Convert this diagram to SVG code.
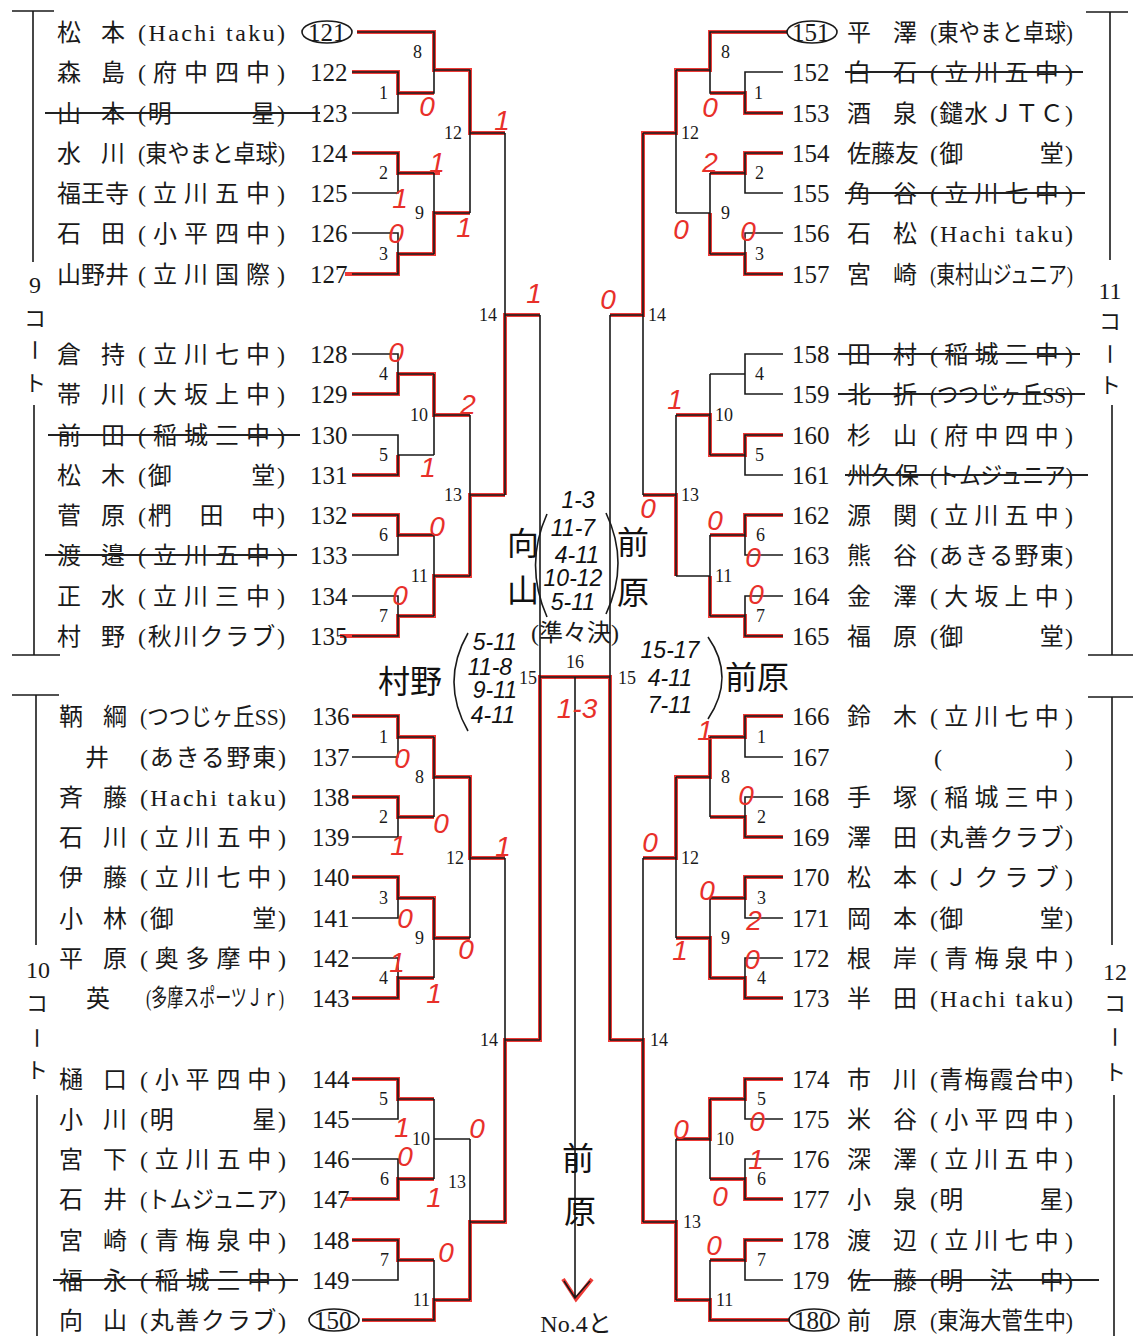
<svg xmlns="http://www.w3.org/2000/svg" width="1133" height="1336" viewBox="0 0 1133 1336">
<style>
.nm{font-family:"Noto Sans CJK JP",sans-serif;font-size:24px;fill:#1a1a1a}
.cl{font-family:"Liberation Serif","Noto Sans CJK JP",serif;font-size:24px;fill:#1a1a1a}
.no{font-family:"Liberation Serif",serif;font-size:25px;fill:#1a1a1a}
.mt{font-family:"Liberation Serif",serif;font-size:18px;fill:#1a1a1a}
.ml{text-anchor:end}
.ln{stroke:#1a1a1a;stroke-width:1.6;fill:none}
.rd{stroke:#ee3a36;stroke-width:4;fill:none;stroke-linejoin:miter}
.st{stroke:#222;stroke-width:2}
.ov{stroke:#1a1a1a;stroke-width:1.6;fill:none}
.sc{font-family:"Liberation Sans",sans-serif;font-style:italic;font-size:28px;fill:#e8302a;text-anchor:middle}
.hw{font-family:"Liberation Sans",sans-serif;font-style:italic;font-size:23px;fill:#111;text-anchor:middle}
.hk{font-family:"Noto Sans CJK JP",sans-serif;font-size:32px;fill:#111;text-anchor:middle}
.ct{font-family:"Noto Sans CJK JP",sans-serif;font-size:22px;fill:#1a1a1a;text-anchor:middle}
.cn{font-family:"Liberation Serif",serif;font-size:24px;fill:#1a1a1a;text-anchor:middle}
.cr{stroke:#1a1a1a;stroke-width:1.6;fill:none}
</style>

<g id="connectors">
<g id="red">
<path class="rd" d="M352,72 H398 V93 H434"/>
<path class="rd" d="M357,32 H434 V70 H470 V133 H505"/>
<path class="rd" d="M352,153 H398 V173 H440"/>
<path class="rd" d="M345,274 H398 V254 H434 V213 H470"/>
<path class="rd" d="M505,495 V315 H540"/>
<path class="rd" d="M352,394 H398 V374 H434 V415 H470"/>
<path class="rd" d="M352,475 H398 V455"/>
<path class="rd" d="M352,515 H398 V535 H434"/>
<path class="rd" d="M340,636 H398 V616 H434 V576 H470 V495 H505"/>
<path class="rd" d="M352,716 H398 V737 H434 V777 H470 V858 H505"/>
<path class="rd" d="M352,797 H398 V817 H434"/>
<path class="rd" d="M352,877 H398 V898 H434 V938 H470"/>
<path class="rd" d="M352,998 H398 V978 H434"/>
<path class="rd" d="M352,1079 H398 V1099 H434"/>
<path class="rd" d="M345,1199 H398 V1179 H434"/>
<path class="rd" d="M352,1240 H398 V1260 H434"/>
<path class="rd" d="M362,1320 H434 V1300 H470 V1222 H505 V1040 H540 V677 H575"/>
<path class="rd" d="M787,32 H710 V70 H676 V133 H643 V315 H610"/>
<path class="rd" d="M783,113 H745 V93 H710"/>
<path class="rd" d="M783,153 H745 V173 H710"/>
<path class="rd" d="M783,274 H745 V254 H710 V213"/>
<path class="rd" d="M783,435 H745 V455 H710 V415 H676"/>
<path class="rd" d="M783,515 H745 V535 H710"/>
<path class="rd" d="M783,636 H745 V616 H710 V576"/>
<path class="rd" d="M676,576 V495 H643"/>
<path class="rd" d="M783,716 H745 V737 H710 V777 H676 V858 H643"/>
<path class="rd" d="M783,837 H745 V817 H710"/>
<path class="rd" d="M783,877 H745 V898 H710"/>
<path class="rd" d="M783,998 H745 V978 H710 V938 H676"/>
<path class="rd" d="M783,1079 H745 V1099 H710 V1139 H676"/>
<path class="rd" d="M783,1199 H745 V1179 H710"/>
<path class="rd" d="M783,1240 H745 V1260 H710"/>
<path class="rd" d="M790,1320 H710 V1300 H676 V1222 H643 V1040 H610 V677 H575"/>
<path class="rd" d="M563,1279 L576,1299 L592,1279"/>
</g>
<g id="black">
<path class="ln" d="M357,32 H434 V93 H398 M352,72 H398 V113 H352 M434,70 H470 M352,153 H398 V193 H352 M398,173 H434 M352,233 H398 V274 H352 M398,254 H434 M434,173 V254 M434,213 H470 M470,70 V213 M470,133 H505 M505,133 V495 M505,315 H540"/>
<path class="ln" d="M352,354 H398 V394 H352 M398,374 H434 M352,435 H398 V475 H352 M398,455 H434 M434,374 V455 M434,415 H470 M352,515 H398 V555 H352 M398,535 H434 M352,596 H398 V636 H352 M398,616 H434 M434,535 V616 M434,576 H470 M470,415 V576 M470,495 H505"/>
<path class="ln" d="M352,716 H398 V757 H352 M398,737 H434 M352,797 H398 V837 H352 M398,817 H434 M434,737 V817 M434,777 H470 M352,877 H398 V918 H352 M398,898 H434 M352,958 H398 V998 H352 M398,978 H434 M434,898 V978 M434,938 H470 M470,777 V938 M470,858 H505 M505,858 V1222 M505,1040 H540"/>
<path class="ln" d="M352,1079 H398 V1119 H352 M398,1099 H434 M352,1159 H398 V1199 H352 M398,1179 H434 M434,1099 V1179 M434,1139 H470 M352,1240 H398 V1280 H352 M398,1260 H434 M362,1320 H434 V1260 M434,1300 H470 M470,1139 V1300 M470,1222 H505"/>
<path class="ln" d="M540,315 V1040 M610,315 V1040 M540,677 H610 M575,677 V1298 M564,1281 L575,1298 L590,1281"/>
<path class="ln" d="M787,32 H710 V93 H745 M783,72 H745 V113 H783 M710,70 H676 M783,153 H745 V193 H783 M745,173 H710 M783,233 H745 V274 H783 M745,254 H710 M710,173 V254 M710,213 H676 M676,70 V213 M676,133 H643 M643,133 V495 M643,315 H610"/>
<path class="ln" d="M783,354 H745 V394 H783 M745,374 H710 M783,435 H745 V475 H783 M745,455 H710 M710,374 V455 M710,415 H676 M783,515 H745 V555 H783 M745,535 H710 M783,596 H745 V636 H783 M745,616 H710 M710,535 V616 M710,576 H676 M676,415 V576 M676,495 H643"/>
<path class="ln" d="M783,716 H745 V757 H783 M745,737 H710 M783,797 H745 V837 H783 M745,817 H710 M710,737 V817 M710,777 H676 M783,877 H745 V918 H783 M745,898 H710 M783,958 H745 V998 H783 M745,978 H710 M710,898 V978 M710,938 H676 M676,777 V938 M676,858 H643 M643,858 V1222 M643,1040 H610"/>
<path class="ln" d="M783,1079 H745 V1119 H783 M745,1099 H710 M783,1159 H745 V1199 H783 M745,1179 H710 M710,1099 V1179 M710,1139 H676 M783,1240 H745 V1280 H783 M745,1260 H710 M790,1320 H710 V1260 M710,1300 H676 M676,1139 V1300 M676,1222 H643"/>
</g>
</g>

<g id="match-labels">
<text class="mt ml" x="388" y="99">1</text><text class="mt ml" x="422" y="58">8</text><text class="mt ml" x="388" y="179">2</text><text class="mt ml" x="388" y="260">3</text><text class="mt ml" x="424" y="219">9</text><text class="mt ml" x="462" y="139">12</text><text class="mt ml" x="497" y="321">14</text>
<text class="mt ml" x="388" y="380">4</text><text class="mt ml" x="388" y="461">5</text><text class="mt ml" x="428" y="421">10</text><text class="mt ml" x="388" y="541">6</text><text class="mt ml" x="388" y="622">7</text><text class="mt ml" x="428" y="582">11</text><text class="mt ml" x="462" y="501">13</text>
<text class="mt ml" x="388" y="743">1</text><text class="mt ml" x="388" y="823">2</text><text class="mt ml" x="424" y="783">8</text><text class="mt ml" x="388" y="904">3</text><text class="mt ml" x="388" y="984">4</text><text class="mt ml" x="424" y="944">9</text><text class="mt ml" x="464" y="864">12</text><text class="mt ml" x="498" y="1046">14</text>
<text class="mt ml" x="388" y="1105">5</text><text class="mt ml" x="389" y="1185">6</text><text class="mt ml" x="430" y="1145">10</text><text class="mt ml" x="389" y="1266">7</text><text class="mt ml" x="430" y="1306">11</text><text class="mt ml" x="466" y="1188">13</text>
<text class="mt" x="721" y="58">8</text><text class="mt" x="754" y="99">1</text><text class="mt" x="681" y="139">12</text><text class="mt" x="755" y="179">2</text><text class="mt" x="721" y="219">9</text><text class="mt" x="755" y="260">3</text><text class="mt" x="648" y="321">14</text>
<text class="mt" x="755" y="380">4</text><text class="mt" x="755" y="461">5</text><text class="mt" x="715" y="421">10</text><text class="mt" x="756" y="541">6</text><text class="mt" x="756" y="622">7</text><text class="mt" x="715" y="582">11</text><text class="mt" x="681" y="501">13</text>
<text class="mt" x="757" y="743">1</text><text class="mt" x="721" y="783">8</text><text class="mt" x="757" y="823">2</text><text class="mt" x="757" y="904">3</text><text class="mt" x="757" y="984">4</text><text class="mt" x="721" y="944">9</text><text class="mt" x="681" y="864">12</text><text class="mt" x="650" y="1046">14</text>
<text class="mt" x="757" y="1105">5</text><text class="mt" x="757" y="1185">6</text><text class="mt" x="716" y="1145">10</text><text class="mt" x="757" y="1266">7</text><text class="mt" x="716" y="1306">11</text><text class="mt" x="683" y="1228">13</text>
<text class="mt ml" x="537" y="684">15</text><text class="mt" x="575" y="668" text-anchor="middle">16</text><text class="mt" x="618" y="684">15</text>
</g>

<g id="players-left">
<g id="p121"><text class="nm" y="41"><tspan x="57">松</tspan><tspan x="101">本</tspan></text><text class="cl" x="138" y="41" textLength="147">(Hachi taku)</text><text class="no" x="308" y="41">121</text><ellipse class="ov" cx="327" cy="32" rx="25" ry="11"/></g>
<g id="p122"><text class="nm" y="81"><tspan x="57">森</tspan><tspan x="101">島</tspan></text><text class="cl" x="138" y="81" textLength="147">(府中四中)</text><text class="no" x="310" y="81">122</text></g>
<g id="p123"><text class="nm" y="122"><tspan x="57">山</tspan><tspan x="101">本</tspan></text><text class="cl" x="138" y="122" textLength="147">(明　　　星)</text><text class="no" x="310" y="122">123</text><line class="st" x1="45" y1="113" x2="320" y2="113"/></g>
<g id="p124"><text class="nm" y="162"><tspan x="57">水</tspan><tspan x="101">川</tspan></text><text class="cl" x="138" y="162" textLength="147" lengthAdjust="spacingAndGlyphs">(東やまと卓球)</text><text class="no" x="310" y="162">124</text></g>
<g id="p125"><text class="nm" x="57" y="202">福王寺</text><text class="cl" x="138" y="202" textLength="147">(立川五中)</text><text class="no" x="310" y="202">125</text></g>
<g id="p126"><text class="nm" y="242"><tspan x="57">石</tspan><tspan x="101">田</tspan></text><text class="cl" x="138" y="242" textLength="147">(小平四中)</text><text class="no" x="310" y="242">126</text></g>
<g id="p127"><text class="nm" x="57" y="283">山野井</text><text class="cl" x="138" y="283" textLength="147">(立川国際)</text><text class="no" x="310" y="283">127</text></g>
<g id="p128"><text class="nm" y="363"><tspan x="57">倉</tspan><tspan x="101">持</tspan></text><text class="cl" x="138" y="363" textLength="147">(立川七中)</text><text class="no" x="310" y="363">128</text></g>
<g id="p129"><text class="nm" y="403"><tspan x="57">帯</tspan><tspan x="101">川</tspan></text><text class="cl" x="138" y="403" textLength="147">(大坂上中)</text><text class="no" x="310" y="403">129</text></g>
<g id="p130"><text class="nm" y="444"><tspan x="57">前</tspan><tspan x="101">田</tspan></text><text class="cl" x="138" y="444" textLength="147">(稲城三中)</text><text class="no" x="310" y="444">130</text><line class="st" x1="48" y1="435" x2="300" y2="435"/></g>
<g id="p131"><text class="nm" y="484"><tspan x="57">松</tspan><tspan x="101">木</tspan></text><text class="cl" x="138" y="484" textLength="147">(御　　　堂)</text><text class="no" x="310" y="484">131</text></g>
<g id="p132"><text class="nm" y="524"><tspan x="57">菅</tspan><tspan x="101">原</tspan></text><text class="cl" x="138" y="524" textLength="147">(椚　田　中)</text><text class="no" x="310" y="524">132</text></g>
<g id="p133"><text class="nm" y="564"><tspan x="57">渡</tspan><tspan x="101">邉</tspan></text><text class="cl" x="138" y="564" textLength="147">(立川五中)</text><text class="no" x="310" y="564">133</text><line class="st" x1="45" y1="555" x2="297" y2="555"/></g>
<g id="p134"><text class="nm" y="605"><tspan x="57">正</tspan><tspan x="101">水</tspan></text><text class="cl" x="138" y="605" textLength="147">(立川三中)</text><text class="no" x="310" y="605">134</text></g>
<g id="p135"><text class="nm" y="645"><tspan x="57">村</tspan><tspan x="101">野</tspan></text><text class="cl" x="138" y="645" textLength="147">(秋川クラブ)</text><text class="no" x="310" y="645">135</text></g>
<g id="p136"><text class="nm" y="725"><tspan x="59">鞆</tspan><tspan x="103">綱</tspan></text><text class="cl" x="140" y="725" textLength="146" lengthAdjust="spacingAndGlyphs">(つつじヶ丘SS)</text><text class="no" x="312" y="725">136</text></g>
<g id="p137"><text class="nm" x="85" y="766">井</text><text class="cl" x="140" y="766" textLength="146">(あきる野東)</text><text class="no" x="312" y="766">137</text></g>
<g id="p138"><text class="nm" y="806"><tspan x="59">斉</tspan><tspan x="103">藤</tspan></text><text class="cl" x="140" y="806" textLength="146">(Hachi taku)</text><text class="no" x="312" y="806">138</text></g>
<g id="p139"><text class="nm" y="846"><tspan x="59">石</tspan><tspan x="103">川</tspan></text><text class="cl" x="140" y="846" textLength="146">(立川五中)</text><text class="no" x="312" y="846">139</text></g>
<g id="p140"><text class="nm" y="886"><tspan x="59">伊</tspan><tspan x="103">藤</tspan></text><text class="cl" x="140" y="886" textLength="146">(立川七中)</text><text class="no" x="312" y="886">140</text></g>
<g id="p141"><text class="nm" y="927"><tspan x="59">小</tspan><tspan x="103">林</tspan></text><text class="cl" x="140" y="927" textLength="146">(御　　　堂)</text><text class="no" x="312" y="927">141</text></g>
<g id="p142"><text class="nm" y="967"><tspan x="59">平</tspan><tspan x="103">原</tspan></text><text class="cl" x="140" y="967" textLength="146">(奥多摩中)</text><text class="no" x="312" y="967">142</text></g>
<g id="p143"><text class="nm" x="86" y="1007">英</text><text class="cl" x="146" y="1006" textLength="138" lengthAdjust="spacingAndGlyphs" font-size="19">(多摩スポーツＪｒ)</text><text class="no" x="312" y="1007">143</text></g>
<g id="p144"><text class="nm" y="1088"><tspan x="59">樋</tspan><tspan x="103">口</tspan></text><text class="cl" x="140" y="1088" textLength="146">(小平四中)</text><text class="no" x="312" y="1088">144</text></g>
<g id="p145"><text class="nm" y="1128"><tspan x="59">小</tspan><tspan x="103">川</tspan></text><text class="cl" x="140" y="1128" textLength="146">(明　　　星)</text><text class="no" x="312" y="1128">145</text></g>
<g id="p146"><text class="nm" y="1168"><tspan x="59">宮</tspan><tspan x="103">下</tspan></text><text class="cl" x="140" y="1168" textLength="146">(立川五中)</text><text class="no" x="312" y="1168">146</text></g>
<g id="p147"><text class="nm" y="1208"><tspan x="59">石</tspan><tspan x="103">井</tspan></text><text class="cl" x="140" y="1208" textLength="146" lengthAdjust="spacingAndGlyphs">(トムジュニア)</text><text class="no" x="312" y="1208">147</text></g>
<g id="p148"><text class="nm" y="1249"><tspan x="59">宮</tspan><tspan x="103">崎</tspan></text><text class="cl" x="140" y="1249" textLength="146">(青梅泉中)</text><text class="no" x="312" y="1249">148</text></g>
<g id="p149"><text class="nm" y="1289"><tspan x="59">福</tspan><tspan x="103">永</tspan></text><text class="cl" x="140" y="1289" textLength="146">(稲城三中)</text><text class="no" x="312" y="1289">149</text><line class="st" x1="53" y1="1280" x2="298" y2="1280"/></g>
<g id="p150"><text class="nm" y="1329"><tspan x="59">向</tspan><tspan x="103">山</tspan></text><text class="cl" x="140" y="1329" textLength="146">(丸善クラブ)</text><text class="no" x="314" y="1329">150</text><ellipse class="ov" cx="334" cy="1320" rx="25" ry="11"/></g>
</g>

<g id="players-right">
<g id="p151"><text class="no" x="792" y="41">151</text><ellipse class="ov" cx="812" cy="32" rx="25" ry="11"/><text class="nm" y="41"><tspan x="847">平</tspan><tspan x="893">澤</tspan></text><text class="cl" x="930" y="41" textLength="143" lengthAdjust="spacingAndGlyphs">(東やまと卓球)</text></g>
<g id="p152"><text class="no" x="792" y="81">152</text><text class="nm" y="81"><tspan x="847">白</tspan><tspan x="893">石</tspan></text><text class="cl" x="930" y="81" textLength="143">(立川五中)</text><line class="st" x1="845" y1="72" x2="1083" y2="72"/></g>
<g id="p153"><text class="no" x="792" y="122">153</text><text class="nm" y="122"><tspan x="847">酒</tspan><tspan x="893">泉</tspan></text><text class="cl" x="930" y="122" textLength="143">(鑓水ＪＴＣ)</text></g>
<g id="p154"><text class="no" x="792" y="162">154</text><text class="nm" x="847" y="162">佐藤友</text><text class="cl" x="930" y="162" textLength="143">(御　　　堂)</text></g>
<g id="p155"><text class="no" x="792" y="202">155</text><text class="nm" y="202"><tspan x="847">角</tspan><tspan x="893">谷</tspan></text><text class="cl" x="930" y="202" textLength="143">(立川七中)</text><line class="st" x1="845" y1="193" x2="1085" y2="193"/></g>
<g id="p156"><text class="no" x="792" y="242">156</text><text class="nm" y="242"><tspan x="847">石</tspan><tspan x="893">松</tspan></text><text class="cl" x="930" y="242" textLength="143">(Hachi taku)</text></g>
<g id="p157"><text class="no" x="792" y="283">157</text><text class="nm" y="283"><tspan x="847">宮</tspan><tspan x="893">崎</tspan></text><text class="cl" x="930" y="283" textLength="143" lengthAdjust="spacingAndGlyphs">(東村山ジュニア)</text></g>
<g id="p158"><text class="no" x="792" y="363">158</text><text class="nm" y="363"><tspan x="847">田</tspan><tspan x="893">村</tspan></text><text class="cl" x="930" y="363" textLength="143">(稲城三中)</text><line class="st" x1="838" y1="354" x2="1080" y2="354"/></g>
<g id="p159"><text class="no" x="792" y="403">159</text><text class="nm" y="403"><tspan x="847">北</tspan><tspan x="893">折</tspan></text><text class="cl" x="930" y="403" textLength="143" lengthAdjust="spacingAndGlyphs">(つつじヶ丘SS)</text><line class="st" x1="838" y1="394" x2="1085" y2="394"/></g>
<g id="p160"><text class="no" x="792" y="444">160</text><text class="nm" y="444"><tspan x="847">杉</tspan><tspan x="893">山</tspan></text><text class="cl" x="930" y="444" textLength="143">(府中四中)</text></g>
<g id="p161"><text class="no" x="792" y="484">161</text><text class="nm" x="847" y="484">州久保</text><text class="cl" x="930" y="484" textLength="143" lengthAdjust="spacingAndGlyphs">(トムジュニア)</text><line class="st" x1="845" y1="475" x2="1088" y2="475"/></g>
<g id="p162"><text class="no" x="792" y="524">162</text><text class="nm" y="524"><tspan x="847">源</tspan><tspan x="893">関</tspan></text><text class="cl" x="930" y="524" textLength="143">(立川五中)</text></g>
<g id="p163"><text class="no" x="792" y="564">163</text><text class="nm" y="564"><tspan x="847">熊</tspan><tspan x="893">谷</tspan></text><text class="cl" x="930" y="564" textLength="143">(あきる野東)</text></g>
<g id="p164"><text class="no" x="792" y="605">164</text><text class="nm" y="605"><tspan x="847">金</tspan><tspan x="893">澤</tspan></text><text class="cl" x="930" y="605" textLength="143">(大坂上中)</text></g>
<g id="p165"><text class="no" x="792" y="645">165</text><text class="nm" y="645"><tspan x="847">福</tspan><tspan x="893">原</tspan></text><text class="cl" x="930" y="645" textLength="143">(御　　　堂)</text></g>
<g id="p166"><text class="no" x="792" y="725">166</text><text class="nm" y="725"><tspan x="847">鈴</tspan><tspan x="893">木</tspan></text><text class="cl" x="930" y="725" textLength="143">(立川七中)</text></g>
<g id="p167"><text class="no" x="792" y="766">167</text><text class="cl" x="934" y="766" textLength="139">(　　　　　)</text></g>
<g id="p168"><text class="no" x="792" y="806">168</text><text class="nm" y="806"><tspan x="847">手</tspan><tspan x="893">塚</tspan></text><text class="cl" x="930" y="806" textLength="143">(稲城三中)</text></g>
<g id="p169"><text class="no" x="792" y="846">169</text><text class="nm" y="846"><tspan x="847">澤</tspan><tspan x="893">田</tspan></text><text class="cl" x="930" y="846" textLength="143">(丸善クラブ)</text></g>
<g id="p170"><text class="no" x="792" y="886">170</text><text class="nm" y="886"><tspan x="847">松</tspan><tspan x="893">本</tspan></text><text class="cl" x="930" y="886" textLength="143">(Ｊクラブ)</text></g>
<g id="p171"><text class="no" x="792" y="927">171</text><text class="nm" y="927"><tspan x="847">岡</tspan><tspan x="893">本</tspan></text><text class="cl" x="930" y="927" textLength="143">(御　　　堂)</text></g>
<g id="p172"><text class="no" x="792" y="967">172</text><text class="nm" y="967"><tspan x="847">根</tspan><tspan x="893">岸</tspan></text><text class="cl" x="930" y="967" textLength="143">(青梅泉中)</text></g>
<g id="p173"><text class="no" x="792" y="1007">173</text><text class="nm" y="1007"><tspan x="847">半</tspan><tspan x="893">田</tspan></text><text class="cl" x="930" y="1007" textLength="143">(Hachi taku)</text></g>
<g id="p174"><text class="no" x="792" y="1088">174</text><text class="nm" y="1088"><tspan x="847">市</tspan><tspan x="893">川</tspan></text><text class="cl" x="930" y="1088" textLength="143">(青梅霞台中)</text></g>
<g id="p175"><text class="no" x="792" y="1128">175</text><text class="nm" y="1128"><tspan x="847">米</tspan><tspan x="893">谷</tspan></text><text class="cl" x="930" y="1128" textLength="143">(小平四中)</text></g>
<g id="p176"><text class="no" x="792" y="1168">176</text><text class="nm" y="1168"><tspan x="847">深</tspan><tspan x="893">澤</tspan></text><text class="cl" x="930" y="1168" textLength="143">(立川五中)</text></g>
<g id="p177"><text class="no" x="792" y="1208">177</text><text class="nm" y="1208"><tspan x="847">小</tspan><tspan x="893">泉</tspan></text><text class="cl" x="930" y="1208" textLength="143">(明　　　星)</text></g>
<g id="p178"><text class="no" x="792" y="1249">178</text><text class="nm" y="1249"><tspan x="847">渡</tspan><tspan x="893">辺</tspan></text><text class="cl" x="930" y="1249" textLength="143">(立川七中)</text></g>
<g id="p179"><text class="no" x="792" y="1289">179</text><text class="nm" y="1289"><tspan x="847">佐</tspan><tspan x="893">藤</tspan></text><text class="cl" x="930" y="1289" textLength="143">(明　法　中)</text><line class="st" x1="852" y1="1280" x2="1099" y2="1280"/></g>
<g id="p180"><text class="no" x="794" y="1329">180</text><ellipse class="ov" cx="814" cy="1320" rx="25" ry="11"/><text class="nm" y="1329"><tspan x="847">前</tspan><tspan x="893">原</tspan></text><text class="cl" x="930" y="1329" textLength="143" lengthAdjust="spacingAndGlyphs">(東海大菅生中)</text></g>
</g>

<g id="courts">
<g id="court9"><path class="cr" d="M12,11 H54 M33,11 V262 M34,405 V655 M12,655 H60"/><text class="cn" x="35" y="293">9</text><text class="ct" x="35" y="326">コ</text><text class="ct" transform="translate(35,350) rotate(90)" y="8">ー</text><text class="ct" x="35" y="391">ト</text></g>
<g id="court10"><path class="cr" d="M12,695 H59 M36,695 V945 M37,1095 V1336"/><text class="cn" x="38" y="978">10</text><text class="ct" x="37" y="1011">コ</text><text class="ct" transform="translate(37,1038) rotate(90)" y="8">ー</text><text class="ct" x="37" y="1078">ト</text></g>
<g id="court11"><path class="cr" d="M1086,12 H1128 M1110,12 V260 M1112,405 V655 M1088,655 H1133"/><text class="cn" x="1110" y="299">11</text><text class="ct" x="1110" y="329">コ</text><text class="ct" transform="translate(1110,354) rotate(90)" y="8">ー</text><text class="ct" x="1110" y="393">ト</text></g>
<g id="court12"><path class="cr" d="M1088,697 H1133 M1112,697 V945 M1114,1095 V1336"/><text class="cn" x="1115" y="980">12</text><text class="ct" x="1115" y="1011">コ</text><text class="ct" transform="translate(1115,1037) rotate(90)" y="8">ー</text><text class="ct" x="1115" y="1080">ト</text></g>
</g>

<g id="scores">
<text class="sc" x="427" y="116">0</text><text class="sc" x="502" y="130">1</text><text class="sc" x="437" y="172">1</text><text class="sc" x="400" y="208">1</text><text class="sc" x="396" y="243">0</text><text class="sc" x="464" y="237">1</text><text class="sc" x="534" y="303">1</text>
<text class="sc" x="396" y="362">0</text><text class="sc" x="468" y="414">2</text><text class="sc" x="428" y="477">1</text><text class="sc" x="437" y="536">0</text><text class="sc" x="400" y="605">0</text>
<text class="sc" x="402" y="768">0</text><text class="sc" x="441" y="833">0</text><text class="sc" x="398" y="855">1</text><text class="sc" x="503" y="856">1</text><text class="sc" x="405" y="928">0</text><text class="sc" x="466" y="959">0</text><text class="sc" x="397" y="972">1</text><text class="sc" x="434" y="1003">1</text>
<text class="sc" x="477" y="1138">0</text><text class="sc" x="402" y="1137">1</text><text class="sc" x="405" y="1166">0</text><text class="sc" x="434" y="1207">1</text><text class="sc" x="446" y="1262">0</text>
<text class="sc" x="710" y="117">0</text><text class="sc" x="710" y="172">2</text><text class="sc" x="681" y="239">0</text><text class="sc" x="748" y="241">0</text><text class="sc" x="608" y="309">0</text>
<text class="sc" x="675" y="409">1</text><text class="sc" x="648" y="518">0</text><text class="sc" x="715" y="530">0</text><text class="sc" x="753" y="567">0</text><text class="sc" x="756" y="604">0</text>
<text class="sc" x="705" y="740">1</text><text class="sc" x="746" y="805">0</text><text class="sc" x="650" y="852">0</text><text class="sc" x="707" y="900">0</text><text class="sc" x="754" y="930">2</text><text class="sc" x="680" y="960">1</text><text class="sc" x="752" y="969">0</text>
<text class="sc" x="681" y="1139">0</text><text class="sc" x="757" y="1131">0</text><text class="sc" x="756" y="1169">1</text><text class="sc" x="720" y="1206">0</text><text class="sc" x="714" y="1255">0</text>
<text class="sc" x="577" y="718" font-size="32">1-3</text>
</g>

<g id="notes">
<text class="hw" x="578" y="508" font-size="28">1-3</text>
<text class="hk" x="523" y="555">向</text><text class="hk" x="523" y="602">山</text>
<path class="cr" d="M547,514 Q524,565 547,617"/>
<path class="cr" d="M606,513 Q630,563 606,614"/>
<text class="hw" x="573" y="536">11-7</text><text class="hw" x="577" y="563">4-11</text><text class="hw" x="573" y="586">10-12</text><text class="hw" x="573" y="610">5-11</text>
<text class="hk" x="633" y="554">前</text><text class="hk" x="633" y="604">原</text>
<text class="cl" x="575" y="641" font-size="15" text-anchor="middle">(準々決)</text>
<text class="hk" x="410" y="693" font-size="34">村野</text>
<path class="cr" d="M468,633 Q440,682 468,731"/>
<text class="hw" x="495" y="650">5-11</text><text class="hw" x="490" y="675">11-8</text><text class="hw" x="495" y="698">9-11</text><text class="hw" x="493" y="723">4-11</text>
<text class="hw" x="670" y="658">15-17</text><text class="hw" x="670" y="686">4-11</text><text class="hw" x="670" y="713">7-11</text>
<path class="cr" d="M708,637 Q736,677 708,719"/>
<text class="hk" x="757" y="689" font-size="34">前原</text>
<text class="hk" x="578" y="1170" font-size="44">前</text><text class="hk" x="580" y="1223" font-size="46">原</text>
<text class="cl" x="576" y="1332" font-size="21" text-anchor="middle">No.4と</text>
</g>
</svg>
